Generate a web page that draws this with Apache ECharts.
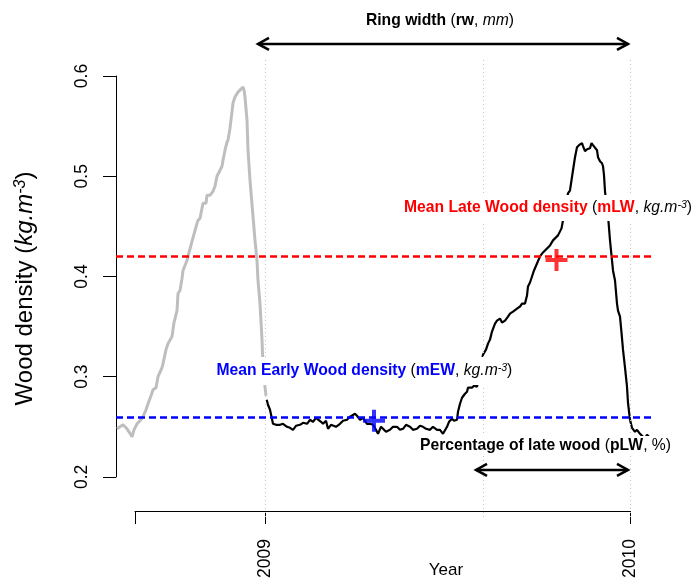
<!DOCTYPE html>
<html>
<head>
<meta charset="utf-8">
<script src="https://cdn.jsdelivr.net/npm/echarts@6/dist/echarts.min.js"></script>
<style>
  html, body { margin: 0; padding: 0; background: #fff; }
  #chart { width: 697px; height: 581px; }
</style>
</head>
<body>
<div id="chart"></div>
<script>
// Intra-annual wood density profile of the 2009 ring.
// x values are days counted from 1 January 2009, y values are densities.

// End of the previous ring (drawn in grey)
const prevRingDays = [-148, -145, -142, -138, -136, -133, -131, -128, -125, -122, -119, -117, -114, -112, -109, -107, -103, -102, -99, -97, -93, -91, -88, -87, -85, -83, -82, -78, -77, -73, -72, -68, -67, -65, -62, -59, -58, -55, -52, -50, -48, -47, -43, -42, -40, -38, -37, -35, -33, -32, -30, -27, -25, -22, -21, -20, -18, -17, -15, -12, -10, -8, -7, -5, -3, -2.5, -1, 0, 1];
const prevRingDensity = [0.248, 0.250, 0.252, 0.248, 0.245, 0.240, 0.247, 0.253, 0.256, 0.260, 0.267, 0.273, 0.281, 0.287, 0.289, 0.300, 0.309, 0.313, 0.327, 0.333, 0.340, 0.354, 0.366, 0.383, 0.386, 0.398, 0.406, 0.416, 0.420, 0.435, 0.436, 0.453, 0.456, 0.458, 0.473, 0.473, 0.481, 0.481, 0.485, 0.490, 0.500, 0.501, 0.510, 0.516, 0.526, 0.534, 0.536, 0.548, 0.549, 0.573, 0.579, 0.584, 0.586, 0.589, 0.586, 0.579, 0.556, 0.526, 0.496, 0.460, 0.436, 0.416, 0.396, 0.373, 0.337, 0.323, 0.302, 0.290, 0.281];

// The 2009 ring (drawn in black)
const ringDays = [1.7, 3, 5, 8, 11, 15, 18, 22, 25, 28, 31, 35, 38, 42, 45, 48, 51, 53, 56, 58, 61, 63, 66, 68, 71, 75, 78, 82, 85, 87, 90, 92, 95, 98, 102, 105, 108, 111, 113, 116, 118, 121, 125, 128, 132, 135, 138, 141, 145, 148, 152, 155, 158, 161, 165, 168, 172, 175, 178, 182, 184, 187, 189, 192, 193, 195, 197, 198, 200, 202, 203, 205, 207, 209, 212, 215, 218, 221, 223, 225, 227, 230, 232, 235, 237, 240, 243, 245, 248, 252, 255, 257, 260, 262, 263, 265, 267, 269, 272, 273, 275, 278, 282, 285, 288, 290, 293, 295, 296.5, 298, 301, 303, 305, 308, 310, 312, 314, 317, 318, 320, 322, 325, 326.5, 328, 330, 332, 333, 335, 337, 338, 339, 340, 341.5, 343, 345, 347, 348, 350, 352, 353, 355, 356.5, 358, 360, 362, 363, 365, 367, 370, 372, 375, 377, 380, 382, 384, 386];
const ringDensity = [0.277, 0.272, 0.267, 0.253, 0.252, 0.252, 0.253, 0.250, 0.249, 0.247, 0.251, 0.252, 0.254, 0.253, 0.257, 0.255, 0.259, 0.258, 0.255, 0.253, 0.256, 0.248, 0.252, 0.253, 0.250, 0.253, 0.256, 0.257, 0.260, 0.259, 0.263, 0.261, 0.257, 0.259, 0.253, 0.253, 0.252, 0.247, 0.243, 0.250, 0.248, 0.245, 0.247, 0.250, 0.250, 0.247, 0.248, 0.252, 0.250, 0.247, 0.248, 0.251, 0.250, 0.248, 0.247, 0.250, 0.247, 0.247, 0.243, 0.250, 0.255, 0.258, 0.256, 0.257, 0.265, 0.273, 0.279, 0.280, 0.283, 0.285, 0.289, 0.290, 0.289, 0.291, 0.290, 0.305, 0.322, 0.327, 0.333, 0.337, 0.345, 0.353, 0.356, 0.358, 0.354, 0.356, 0.360, 0.363, 0.365, 0.368, 0.370, 0.373, 0.373, 0.381, 0.390, 0.394, 0.400, 0.406, 0.413, 0.414, 0.420, 0.424, 0.428, 0.431, 0.436, 0.438, 0.441, 0.441, 0.448, 0.456, 0.471, 0.483, 0.486, 0.506, 0.519, 0.529, 0.531, 0.533, 0.530, 0.525, 0.527, 0.528, 0.533, 0.531, 0.530, 0.526, 0.519, 0.515, 0.513, 0.510, 0.501, 0.485, 0.473, 0.461, 0.436, 0.416, 0.406, 0.396, 0.373, 0.366, 0.360, 0.344, 0.327, 0.309, 0.290, 0.274, 0.257, 0.249, 0.245, 0.247, 0.243, 0.241, 0.238, 0.242, 0.240, 0.236];

// Ring boundaries: ring start, early/late wood transition, ring end (days)
const ringBoundaries = [0, 218, 365];
const meanEarlyWood = 0.256;
const meanLateWood = 0.4165;

// Axis ticks
const yearTicks = [-130, 0, 365];
const yearLabelValues = [0, 365];
const yearLabels = ['2009', '2010'];
const densityTicks = [0.2, 0.3, 0.4, 0.5, 0.6];

// Arrow spans (days) and their heights (density units)
const ringWidthSpan = [-7, 363];
const ringWidthLevel = 0.632;
const lateWoodSpan = [211, 363];
const lateWoodLevel = 0.207;

const FONT = '"Liberation Sans", Arial, sans-serif';
const RED = '#ff0000';
const BLUE = '#0000ff';
const TICK_FS = 17.5;

// Plot frame
const plotBox = { left: 116, top: 60, width: 535, height: 457 };
const xRange = [-149, 386];
const yRange = [0.16, 0.616];
const pxPerDay = plotBox.width / (xRange[1] - xRange[0]);
const pxPerUnit = plotBox.height / (yRange[1] - yRange[0]);

const xAxisGrid = {
  left: plotBox.left + (yearTicks[0] - xRange[0]) * pxPerDay,
  width: (yearTicks[yearTicks.length - 1] - yearTicks[0]) * pxPerDay,
  top: plotBox.top, height: plotBox.height
};
const yAxisGrid = {
  left: plotBox.left, width: plotBox.width,
  top: plotBox.top + (yRange[1] - densityTicks[densityTicks.length - 1]) * pxPerUnit,
  height: (densityTicks[densityTicks.length - 1] - densityTicks[0]) * pxPerUnit
};

const zip = (xs, ys) => xs.map((x, i) => [x, ys[i]]);
const midEarly = (ringBoundaries[0] + ringBoundaries[1]) / 2;
const midLate = (ringBoundaries[1] + ringBoundaries[2]) / 2;

const plusSymbol = 'path://M0,9 L22,9 L22,13 L0,13 Z M9,0 L13,0 L13,22 L9,22 Z';
const hidden = { show: false };

const chart = echarts.init(document.getElementById('chart'), null, { renderer: 'canvas' });

chart.setOption({
  animation: false,
  backgroundColor: '#fff',
  textStyle: { fontFamily: FONT },
  grid: [
    { left: plotBox.left, top: plotBox.top, width: plotBox.width, height: plotBox.height },
    xAxisGrid,
    yAxisGrid
  ],
  xAxis: [
    { gridIndex: 0, type: 'value', min: xRange[0], max: xRange[1], show: false },
    {
      gridIndex: 1, type: 'value', min: yearTicks[0], max: yearTicks[yearTicks.length - 1],
      axisLine: { show: true, onZero: false, lineStyle: { color: '#000', width: 1 } },
      axisTick: { show: true, customValues: yearTicks, length: 13, lineStyle: { color: '#000', width: 1 } },
      axisLabel: {
        show: true, customValues: yearLabelValues, rotate: 90, margin: 28,
        fontSize: TICK_FS, color: '#000', fontFamily: FONT,
        formatter: v => yearLabels[yearLabelValues.indexOf(v)] || ''
      },
      splitLine: hidden
    },
    { gridIndex: 2, type: 'value', min: 0, max: 1, show: false }
  ],
  yAxis: [
    {
      gridIndex: 0, type: 'value', min: yRange[0], max: yRange[1],
      axisLine: hidden, axisTick: hidden, axisLabel: hidden, splitLine: hidden,
      name: '{n|Wood density (}{i|kg.m}{s|-3}{n|)}',
      nameLocation: 'middle', nameRotate: 90, nameGap: 79,
      nameTextStyle: {
        color: '#000', fontFamily: FONT, fontSize: 24,
        rich: {
          n: { fontSize: 24, color: '#000', fontFamily: FONT },
          i: { fontSize: 24, color: '#000', fontFamily: FONT, fontStyle: 'italic' },
          s: { fontSize: 16, color: '#000', fontFamily: FONT, fontStyle: 'italic', verticalAlign: 'top' }
        }
      }
    },
    { gridIndex: 1, type: 'value', min: 0, max: 1, show: false },
    {
      gridIndex: 2, type: 'value', min: densityTicks[0], max: densityTicks[densityTicks.length - 1], interval: 0.1,
      axisLine: { show: true, lineStyle: { color: '#000', width: 1 } },
      axisTick: { show: true, length: 13, lineStyle: { color: '#000', width: 1 } },
      axisLabel: {
        show: true, rotate: 90, margin: 25, fontSize: TICK_FS, color: '#000', fontFamily: FONT,
        formatter: v => v.toFixed(1)
      },
      splitLine: hidden
    }
  ],
  series: [
    {
      // dotted guides at the ring boundaries
      type: 'line', xAxisIndex: 0, yAxisIndex: 0, data: [], z: 1,
      markLine: {
        silent: true, symbol: ['none', 'none'], label: { show: false },
        lineStyle: { color: '#c4c4c4', width: 1, type: [1, 3] },
        data: ringBoundaries.map(d => ({ xAxis: d }))
      }
    },
    {
      type: 'line', xAxisIndex: 0, yAxisIndex: 0, z: 2,
      data: zip(prevRingDays, prevRingDensity),
      showSymbol: false, symbol: 'none',
      lineStyle: { color: '#bebebe', width: 3 }
    },
    {
      type: 'line', xAxisIndex: 0, yAxisIndex: 0, z: 3,
      data: zip(ringDays, ringDensity),
      showSymbol: false, symbol: 'none',
      lineStyle: { color: '#000', width: 2.2 }
    },
    {
      // mean early / late wood densities
      type: 'line', xAxisIndex: 0, yAxisIndex: 0, data: [], z: 4,
      markLine: {
        silent: true, symbol: ['none', 'none'], label: { show: false },
        data: [
          { yAxis: meanEarlyWood, lineStyle: { color: BLUE, width: 2.5, type: [7, 4] } },
          { yAxis: meanLateWood, lineStyle: { color: RED, width: 2.5, type: [7, 4] } }
        ]
      }
    },
    {
      type: 'scatter', xAxisIndex: 0, yAxisIndex: 0, z: 5,
      symbol: plusSymbol, symbolSize: 22,
      data: [
        { value: [midEarly, meanEarlyWood], itemStyle: { color: BLUE } },
        { value: [midLate, meanLateWood], itemStyle: { color: RED } }
      ]
    }
  ]
});

// Annotations placed in data coordinates
const toPx = (d, v) => chart.convertToPixel({ gridIndex: 0 }, [d, v]);

function arrow(span, level) {
  const a = toPx(span[0], level);
  const b = toPx(span[1], level);
  const head = 11, half = 6;
  const st = { stroke: '#000', lineWidth: 2.5, fill: null, lineJoin: 'miter' };
  return [
    { type: 'line', z: 100, shape: { x1: a[0], y1: a[1], x2: b[0], y2: b[1] }, style: st },
    { type: 'polyline', z: 100, shape: { points: [[a[0] + head, a[1] - half], [a[0], a[1]], [a[0] + head, a[1] + half]] }, style: st },
    { type: 'polyline', z: 100, shape: { points: [[b[0] - head, b[1] - half], [b[0], b[1]], [b[0] - head, b[1] + half]] }, style: st }
  ];
}

const FS = 15.7;
function richSet(color) {
  return {
    b: { fontWeight: 'bold', fill: color, fontSize: FS, fontFamily: FONT },
    n: { fill: '#000', fontSize: FS, fontFamily: FONT },
    i: { fill: '#000', fontStyle: 'italic', fontSize: FS, fontFamily: FONT },
    s: { fill: '#000', fontStyle: 'italic', fontSize: 10.5, fontFamily: FONT, verticalAlign: 'top' }
  };
}

function label(text, color, anchor, align, pad) {
  const p = toPx(anchor[0], anchor[1]);
  return {
    type: 'text', z: 110,
    x: align === 'left' ? p[0] - pad[1] : p[0], y: p[1],
    style: {
      text: text, rich: richSet(color),
      fontSize: FS, fontFamily: FONT, fill: '#000',
      align: align, verticalAlign: 'middle',
      backgroundColor: '#fff', padding: pad
    }
  };
}

const yearPos = toPx(181, 0.107);

chart.setOption({
  graphic: [
    label('{b|Ring width }{n|(}{b|rw}{n|, }{i|mm}{n|)}', '#000', [175, 0.655], 'center', [0, 0]),
    ...arrow(ringWidthSpan, ringWidthLevel),
    label('{b|Mean Late Wood density }{n|(}{b|mLW}{n|, }{i|kg.m}{s|-3}{n|)}', RED, [139, 0.4683], 'left', [5, 2]),
    label('{b|Mean Early Wood density }{n|(}{b|mEW}{n|, }{i|kg.m}{s|-3}{n|)}', BLUE, [-48.5, 0.3057], 'left', [6, 2]),
    label('{b|Percentage of late wood }{n|(}{b|pLW}{n|, %)}', '#000', [155, 0.2308], 'left', [2, 2]),
    ...arrow(lateWoodSpan, lateWoodLevel),
    {
      type: 'text', z: 100, x: yearPos[0], y: yearPos[1],
      style: { text: 'Year', fontSize: 17, fontFamily: FONT, fill: '#000', align: 'center', verticalAlign: 'middle' }
    }
  ]
});
</script>
</body>
</html>
